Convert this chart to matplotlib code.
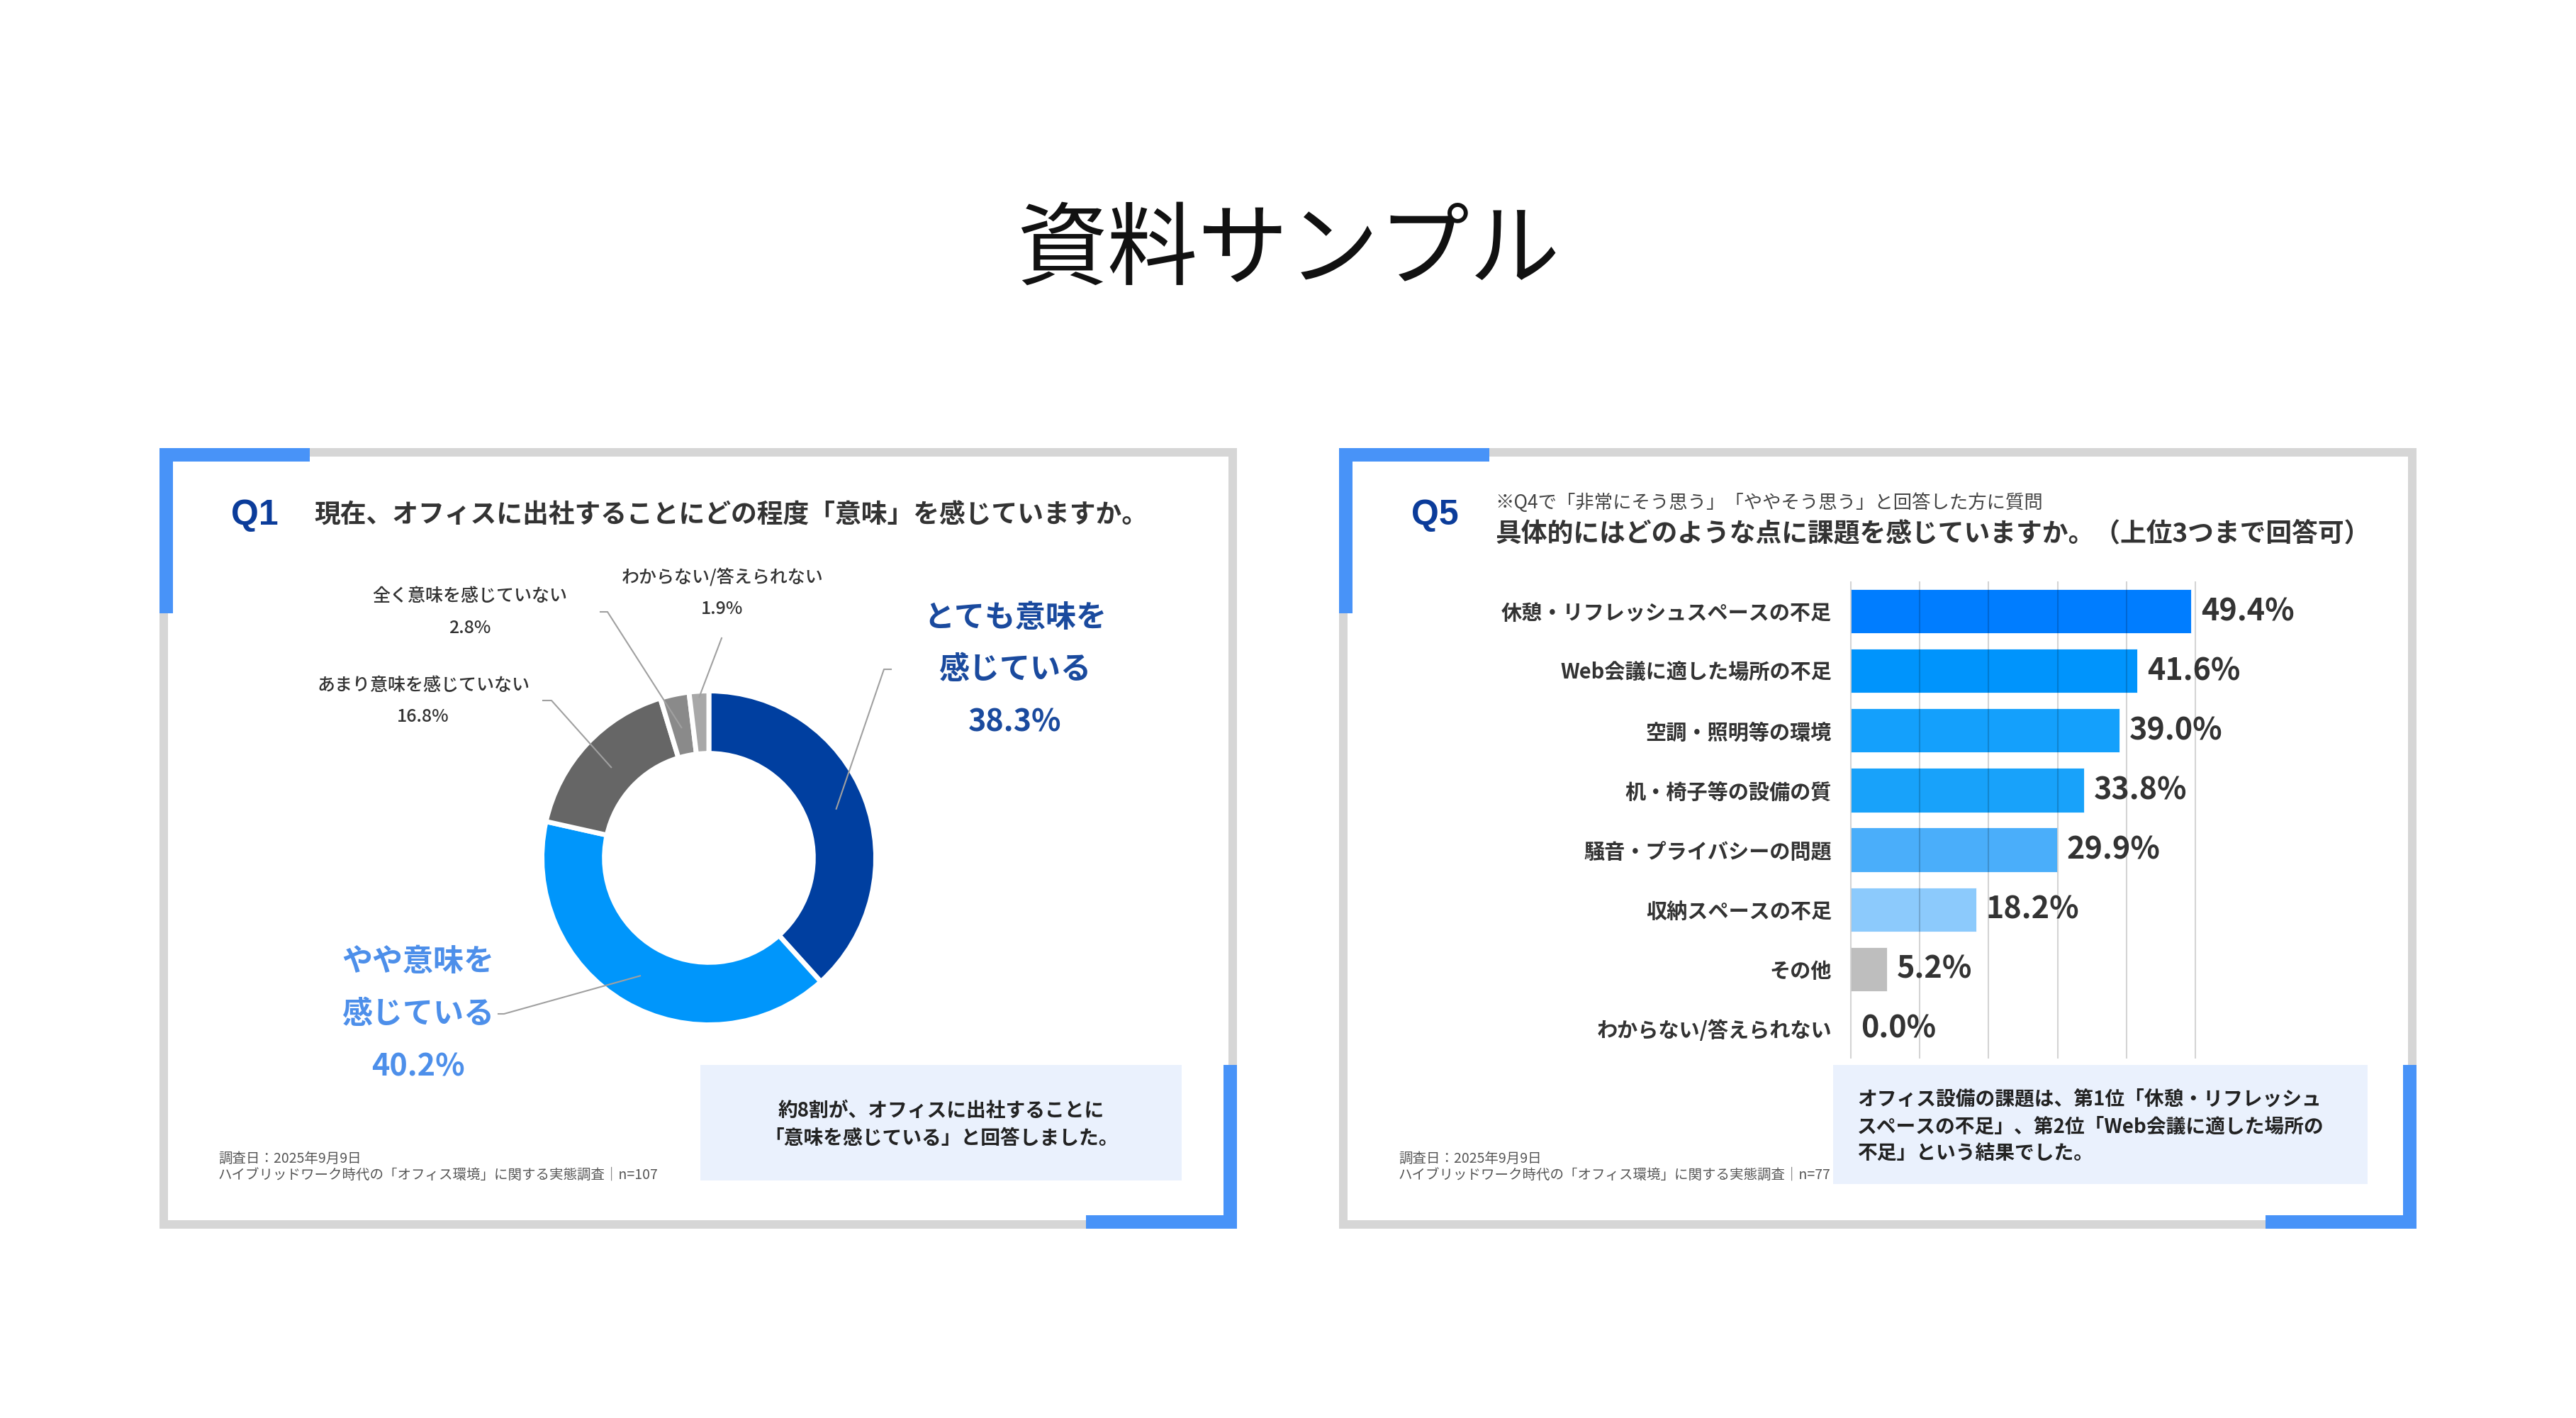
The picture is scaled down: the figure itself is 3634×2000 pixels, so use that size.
import numpy as np
import matplotlib
matplotlib.use("Agg")
import matplotlib.pyplot as plt
from matplotlib.patches import Rectangle

plt.rcParams['font.family'] = ['Noto Sans CJK JP', 'DejaVu Sans']

# ---- data ----
title = "資料サンプル"

q1_question = "現在、オフィスに出社することにどの程度「意味」を感じていますか。"
q1_labels = ["とても意味を感じている", "やや意味を感じている", "あまり意味を感じていない",
             "全く意味を感じていない", "わからない/答えられない"]
q1_values = [38.3, 40.2, 16.8, 2.8, 1.9]
q1_colors = ["#003fa0", "#0096fb", "#666666", "#8a8a8a", "#a8a8a8"]
q1_note = ["約8割が、オフィスに出社することに", "「意味を感じている」と回答しました。"]
q1_source = ["調査日：2025年9月9日",
             "ハイブリッドワーク時代の「オフィス環境」に関する実態調査｜n=107"]

q5_sub = "※Q4で「非常にそう思う」「ややそう思う」と回答した方に質問"
q5_question = "具体的にはどのような点に課題を感じていますか。（上位3つまで回答可）"
q5_labels = ["休憩・リフレッシュスペースの不足", "Web会議に適した場所の不足", "空調・照明等の環境",
             "机・椅子等の設備の質", "騒音・プライバシーの問題", "収納スペースの不足",
             "その他", "わからない/答えられない"]
q5_values = [49.4, 41.6, 39.0, 33.8, 29.9, 18.2, 5.2, 0.0]
q5_colors = ["#007dff", "#0094fc", "#14a0fc", "#18a2fa", "#4aaefa", "#8ccafc", "#bebebe", "#bebebe"]
q5_note = ["オフィス設備の課題は、第1位「休憩・リフレッシュ",
           "スペースの不足」、第2位「Web会議に適した場所の",
           "不足」という結果でした。"]
q5_source = ["調査日：2025年9月9日",
             "ハイブリッドワーク時代の「オフィス環境」に関する実態調査｜n=77"]

# ---- figure, pixel coordinate layers ----
W, H = 3634, 2000
fig = plt.figure(figsize=(W / 100, H / 100), dpi=100, facecolor="white")
bg = fig.add_axes([0, 0, 1, 1], zorder=0)
fg = fig.add_axes([0, 0, 1, 1], zorder=10)
for a in (bg, fg):
    a.set_xlim(0, W)
    a.set_ylim(H, 0)
    a.axis("off")

fg.text(W / 2, 356, title, fontsize=92, ha="center", va="center", color="#111111")

GRAY = "#d6d6d6"
ACCENT = "#4893f8"
NAVY = "#0b3c9a"
TXT = "#333333"


def panel(x0, y0=632, w=1520, h=1101):
    t = 12
    for r in [(x0, y0, w, t), (x0, y0 + h - t, w, t), (x0, y0, t, h), (x0 + w - t, y0, t, h)]:
        bg.add_patch(Rectangle(r[:2], r[2], r[3], color=GRAY, lw=0))
    b = 19
    for r in [(x0, y0, 212, b), (x0, y0, b, 233),
              (x0 + w - b, y0 + h - 231, b, 231), (x0 + w - 213, y0 + h - b, 213, b)]:
        bg.add_patch(Rectangle(r[:2], r[2], r[3], color=ACCENT, lw=0))


panel(225)
panel(1889)

# ---- Q1 panel ----
fg.text(326, 727, "Q1", fontsize=36, fontweight="bold", family="Liberation Sans",
        color=NAVY, ha="left", va="center")
fg.text(443, 727, q1_question, fontsize=26.5, fontweight="bold", color=TXT, ha="left", va="center")

cx, cy, R = 1000, 1210, 232
axp = fig.add_axes([(cx - R) / W, 1 - (cy + R) / H, 2 * R / W, 2 * R / H], zorder=5)
axp.pie(q1_values, colors=q1_colors, startangle=90, counterclock=False, radius=1.015,
        wedgeprops=dict(width=0.38, edgecolor="white", linewidth=5))
axp.set_xlim(-1, 1)
axp.set_ylim(-1, 1)
axp.axis("off")

# leader lines: start inside each wedge, end next to its label
cum = np.cumsum([0] + q1_values)
mid = 90 - (cum[:-1] + np.array(q1_values) / 2) * 3.6
start_r = [0.83, 0.83, 0.81, 0.81, 0.98]
leader_pts = [[(1247, 944), (1257, 944)],
              [(711, 1430), (703, 1430)],
              [(778, 988), (766, 988)],
              [(857, 863), (847, 863)],
              [(1018, 900)]]
for th, rf, pts in zip(np.radians(mid), start_r, leader_pts):
    xs = [cx + rf * R * np.cos(th)] + [p[0] for p in pts]
    ys = [cy - rf * R * np.sin(th)] + [p[1] for p in pts]
    fg.plot(xs, ys, color="#a0a0a0", lw=1.5)

# big labels
big = [(1432, [871, 944, 1018], "#1a4a9e", ["とても意味を", "感じている"]),
       (590, [1356, 1430, 1504], "#4d8fea", ["やや意味を", "感じている"])]
for i, (x, ys, c, lines) in enumerate(big):
    for y, s in zip(ys, lines + [f"{q1_values[i]:.1f}%"]):
        fg.text(x, y, s, fontsize=31, fontweight="bold", color=c, ha="center", va="center")

# small labels
small = [(597, [967, 1011]), (663, [841, 886]), (1019, [815, 859])]
for k, (x, ys) in enumerate(small):
    i = k + 2
    for y, s in zip(ys, [q1_labels[i], f"{q1_values[i]:.1f}%"]):
        fg.text(x, y, s, fontsize=18, fontweight="medium", color=TXT, ha="center", va="center")

bg.add_patch(Rectangle((988, 1502), 679, 163, color="#eaf1fd", lw=0))
for y, s in zip([1567, 1606], q1_note):
    fg.text(1328, y, s, fontsize=20, fontweight="bold", color="#222222", ha="center", va="center")

for y, s in zip([1634, 1657], q1_source):
    fg.text(308, y, s, fontsize=14, color="#555555", ha="left", va="center")

# ---- Q5 panel ----
fg.text(1991, 727, "Q5", fontsize=36, fontweight="bold", family="Liberation Sans",
        color=NAVY, ha="left", va="center")
fg.text(2109, 709, q5_sub, fontsize=19, color="#444444", ha="left", va="center")
fg.text(2109, 753, q5_question, fontsize=26.5, fontweight="bold", color=TXT, ha="left", va="center")

x_left, x_right = 2609, 3099
y_top, y_bot = 820, 1493
axb = fig.add_axes([x_left / W, 1 - y_bot / H, (x_right - x_left) / W, (y_bot - y_top) / H],
                   zorder=5)
axb.patch.set_alpha(0)
ypos = np.arange(len(q5_values))
axb.barh(ypos, q5_values, height=0.74, color=q5_colors, edgecolor="white", linewidth=0.6)
axb.set_xlim(-0.2, 50.2)
axb.set_ylim(len(q5_values) - 0.5, -0.5)
axb.set_xticks(range(0, 51, 10))
axb.set_axisbelow(False)
axb.grid(axis="x", color="black", alpha=0.17, lw=1.5)
axb.tick_params(axis="x", length=0, labelbottom=False)
axb.set_yticks(ypos)
axb.set_yticklabels(q5_labels, fontsize=21, fontweight="bold", color=TXT)
axb.tick_params(axis="y", length=0, pad=18)
for s in axb.spines.values():
    s.set_visible(False)
for y, v in zip(ypos, q5_values):
    axb.annotate(f"{v:.1f}%", (v, y), xytext=(10, 0), textcoords="offset points",
                 fontsize=31, fontweight="bold", color=TXT, ha="left", va="center")

bg.add_patch(Rectangle((2586, 1502), 754, 168, color="#eaf1fd", lw=0))
for y, s in zip([1550, 1589, 1627], q5_note):
    fg.text(2620, y, s, fontsize=20, fontweight="bold", color="#222222", ha="left", va="center")

for y, s in zip([1634, 1657], q5_source):
    fg.text(1973, y, s, fontsize=14, color="#555555", ha="left", va="center")

fig.savefig("out.png", dpi=100, facecolor="white")
